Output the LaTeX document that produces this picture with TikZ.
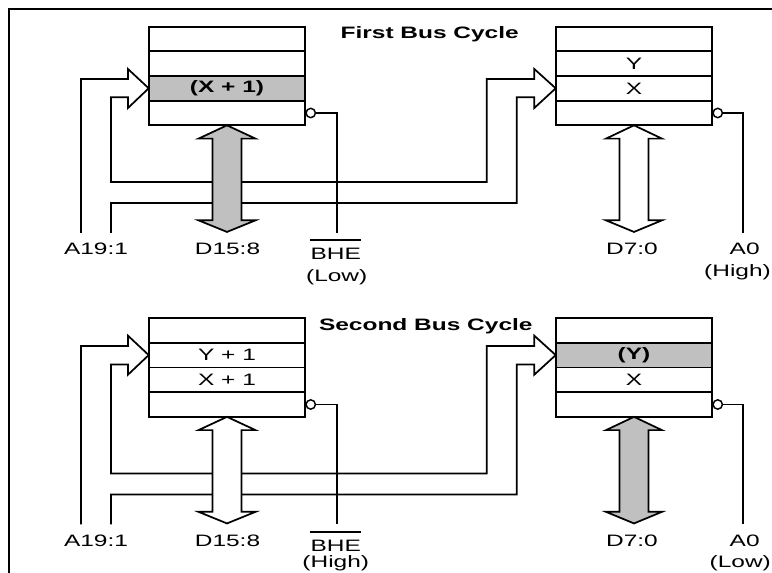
\documentclass[tikz,border=0pt]{standalone}
\usepackage{fontspec}
\setmainfont{Liberation Sans}
\usepackage{graphicx}
\definecolor{cellgray}{RGB}{192,192,192}
\usetikzlibrary{positioning,calc}
\newcommand{\wide}[1]{\scalebox{1.48}[1]{#1}}

\begin{document}
\begin{tikzpicture}[x=0.75pt,y=0.75pt,yscale=-1,xscale=1,
	cell/.style={draw, line width=1.3pt, minimum width=117.5pt, minimum height=18.5pt, inner sep=0pt, outer sep=0pt, font=\fontsize{12.4}{14}\selectfont},
	hot/.style={cell, fill=cellgray, font=\fontsize{12.4}{14}\selectfont\bfseries},
	wire/.style={line width=1.3pt},
	bus/.style={draw, line width=1.3pt, fill=white},
	bubble/.style={draw, circle, line width=1.1pt, minimum size=7pt, inner sep=0pt, fill=white},
	lbl/.style={inner sep=0pt, anchor=base, font=\fontsize{12.4}{14}\selectfont},
	ttl/.style={lbl, font=\fontsize{12.4}{14}\selectfont\bfseries}]
	\useasboundingbox (0,0) rectangle (772,573);
	\clip (0,0) rectangle (772,573);
	
	%Shape: Frame
	\draw [line width=1.5pt] (9,600) -- (9,9) -- (800,9) ;
	
	%%% First bus cycle
	\coordinate (aTopA) at (81,233);
	\coordinate (aTopB) at (111,233);
	\coordinate (bheA) at (336.7,233);
	\coordinate (a0A) at (742.7,233);
	%Straight Lines: A19:1 to both banks
	\draw [wire] (aTopA) |- (128,79) -- (128,69) -- (148.7,88.3) -- (128,108) -- (128,97.3) -| (111,182) -| (486.7,79) -- (534.3,79) -- (534.3,69) -- (555.7,88.3) -- (534.3,108) -- (534.3,97.3) -| (516.7,203) -| (aTopB) ;
	
	%Shape: Odd bank
	\node [cell] (oddA1) at (227,39) {};
	\node [cell, below=0pt of oddA1] (oddA2) {};
	\node [hot, below=0pt of oddA2] (oddA3) {\wide{(X + 1)}};
	\node [cell, below=0pt of oddA3] (oddA4) {};
	%Shape: Even bank
	\node [cell] (evenA1) at (634,39) {};
	\node [cell, below=0pt of evenA1] (evenA2) {\wide{Y}};
	\node [cell, below=0pt of evenA2] (evenA3) {\wide{X}};
	\node [cell, below=0pt of evenA3] (evenA4) {};
	
	%Shape: Data buses
	\draw [bus, fill=cellgray] (oddA4.south) -- ++(28.5,13.3) -- ++(-14,0) -- ++(0,81.7) -- ++(14,0) -- ++(-28.5,11.6) -- ++(-28.5,-11.6) -- ++(14,0) -- ++(0,-81.7) -- ++(-14,0) -- cycle ;
	\draw [bus] (evenA4.south) -- ++(28,13.3) -- ++(-13.5,0) -- ++(0,81.7) -- ++(13.5,0) -- ++(-28,11.6) -- ++(-28,-11.6) -- ++(13.5,0) -- ++(0,-81.7) -- ++(-13.5,0) -- cycle ;
	
	%Shape: Enables
	\node [bubble, anchor=west] (bubOddA) at (oddA4.east) {};
	\node [bubble, anchor=west] (bubEvenA) at (evenA4.east) {};
	\draw [wire] (bubOddA.east) -| (bheA) ;
	\draw [wire] (bubEvenA.east) -| (a0A) ;
	
	% Text Node
	\node [ttl] (titleA) at (429.7,38.5) {\wide{First Bus Cycle}};
	\node [lbl] (adrA) at (96,255) {\wide{A19:1}};
	\node [lbl] (dhiA) at (227.5,255) {\wide{D15:8}};
	\node [lbl] (bheLblA) at (335.7,260) {\wide{BHE}};
	\draw [line width=1.4pt] ($(bheLblA.north west)+(0,-8)$) -- ($(bheLblA.north east)+(0,-8)$) ;
	\node [lbl] (bheValA) at (336.7,281.5) {\wide{(Low)}};
	\node [lbl] (dloA) at (632,255) {\wide{D7:0}};
	\node [lbl] (a0LblA) at (744.7,255) {\wide{A0}};
	\node [lbl] (a0ValA) at (737.5,276.5) {\wide{(High)}};
	
	%%% Second bus cycle
	\begin{scope}[shift={(0,291.5)}]
	\coordinate (aTopC) at (81,233);
	\coordinate (aTopD) at (111,233);
	\coordinate (bheB) at (336.7,233);
	\coordinate (a0B) at (742.7,233);
	%Straight Lines: A19:1 to both banks
	\draw [wire] (aTopC) |- (128,54.4) -- (128,44.2) -- (148.7,63.6) -- (128,83.2) -- (128,72.9) -| (111,182) -| (486.7,54.4) -- (534.3,54.4) -- (534.3,44.2) -- (555.7,63.6) -- (534.3,83.2) -- (534.3,72.9) -| (516.7,203) -| (aTopD) ;
	
	%Shape: Odd bank
	\node [cell] (oddB1) at (227,39) {};
	\node [cell, below=0pt of oddB1] (oddB2) {\wide{Y + 1}};
	\node [cell, below=0pt of oddB2] (oddB3) {\wide{X + 1}};
	\node [cell, below=0pt of oddB3] (oddB4) {};
	%Shape: Even bank
	\node [cell] (evenB1) at (634,39) {};
	\node [hot, below=0pt of evenB1] (evenB2) {\wide{(Y)}};
	\node [cell, below=0pt of evenB2] (evenB3) {\wide{X}};
	\node [cell, below=0pt of evenB3] (evenB4) {};
	
	%Shape: Data buses
	\draw [bus] (oddB4.south) -- ++(28.5,13.3) -- ++(-14,0) -- ++(0,81.7) -- ++(14,0) -- ++(-28.5,11.6) -- ++(-28.5,-11.6) -- ++(14,0) -- ++(0,-81.7) -- ++(-14,0) -- cycle ;
	\draw [bus, fill=cellgray] (evenB4.south) -- ++(28,13.3) -- ++(-13.5,0) -- ++(0,81.7) -- ++(13.5,0) -- ++(-28,11.6) -- ++(-28,-11.6) -- ++(13.5,0) -- ++(0,-81.7) -- ++(-13.5,0) -- cycle ;
	
	%Shape: Enables
	\node [bubble, anchor=west] (bubOddB) at (oddB4.east) {};
	\node [bubble, anchor=west] (bubEvenB) at (evenB4.east) {};
	\draw [wire] (bubOddB.east) -| (bheB) ;
	\draw [wire] (bubEvenB.east) -| (a0B) ;
	
	% Text Node
	\node [ttl] (titleB) at (425.8,38.8) {\wide{Second Bus Cycle}};
	\node [lbl] (adrB) at (96,255) {\wide{A19:1}};
	\node [lbl] (dhiB) at (227.5,255) {\wide{D15:8}};
	\node [lbl] (bheLblB) at (335.7,260) {\wide{BHE}};
	\draw [line width=1.4pt] ($(bheLblB.north west)+(0,-8)$) -- ($(bheLblB.north east)+(0,-8)$) ;
	\node [lbl] (bheValB) at (335.8,276.5) {\wide{(High)}};
	\node [lbl] (dloB) at (632,255) {\wide{D7:0}};
	\node [lbl] (a0LblB) at (744.7,255) {\wide{A0}};
	\node [lbl] (a0ValB) at (740.3,276.5) {\wide{(Low)}};
	\end{scope}
	
\end{tikzpicture}
\end{document}
